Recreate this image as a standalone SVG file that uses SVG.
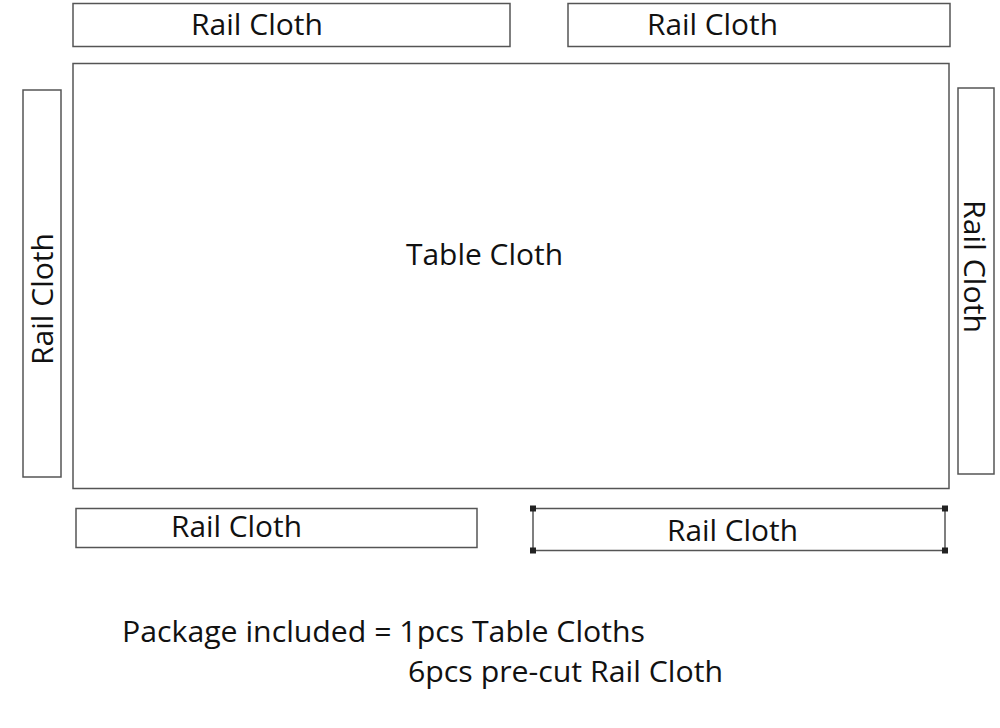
<svg xmlns="http://www.w3.org/2000/svg" width="1000" height="728" viewBox="0 0 1000 728">
<style>
.box{fill:#fff;stroke:#555;stroke-width:1.5}
.t{font-family:"Open Sans","Noto Sans","Liberation Sans",sans-serif;font-size:30px;fill:#111}
.h{fill:#222}
</style>
<rect width="1000" height="728" fill="#fff"/>
<g id="rail-top-left"><rect class="box" x="73" y="3.5" width="437" height="43"/><text class="t" x="191" y="35" textLength="132" lengthAdjust="spacingAndGlyphs">Rail Cloth</text></g>
<g id="rail-top-right"><rect class="box" x="568" y="3.5" width="382" height="43"/><text class="t" x="647" y="35" textLength="131" lengthAdjust="spacingAndGlyphs">Rail Cloth</text></g>
<g id="table-cloth"><rect class="box" x="73" y="63.5" width="876" height="425"/><text class="t" x="406" y="265" textLength="157" lengthAdjust="spacingAndGlyphs">Table Cloth</text></g>
<g id="rail-left"><rect class="box" x="23" y="90" width="38" height="387"/><text class="t" transform="translate(53,365) rotate(-90)" x="0" y="0" textLength="132" lengthAdjust="spacingAndGlyphs">Rail Cloth</text></g>
<g id="rail-right"><rect class="box" x="958" y="88" width="36" height="386"/><text class="t" transform="translate(964,200) rotate(90)" x="0" y="0" textLength="133" lengthAdjust="spacingAndGlyphs">Rail Cloth</text></g>
<g id="rail-bottom-left"><rect class="box" x="76" y="508.5" width="401" height="39"/><text class="t" x="171" y="537" textLength="131" lengthAdjust="spacingAndGlyphs">Rail Cloth</text></g>
<g id="rail-bottom-right"><rect class="box" x="533" y="508.5" width="412" height="42"/><text class="t" x="667" y="541" textLength="131" lengthAdjust="spacingAndGlyphs">Rail Cloth</text>
<rect class="h" x="530" y="505.5" width="6" height="6"/><rect class="h" x="942" y="505.5" width="6" height="6"/><rect class="h" x="530" y="547.5" width="6" height="6"/><rect class="h" x="942" y="547.5" width="6" height="6"/></g>
<g id="package-note"><text class="t" x="122" y="642" textLength="523" lengthAdjust="spacingAndGlyphs">Package included = 1pcs Table Cloths</text><text class="t" x="408" y="682" textLength="315" lengthAdjust="spacingAndGlyphs">6pcs pre-cut Rail Cloth</text></g>
</svg>
